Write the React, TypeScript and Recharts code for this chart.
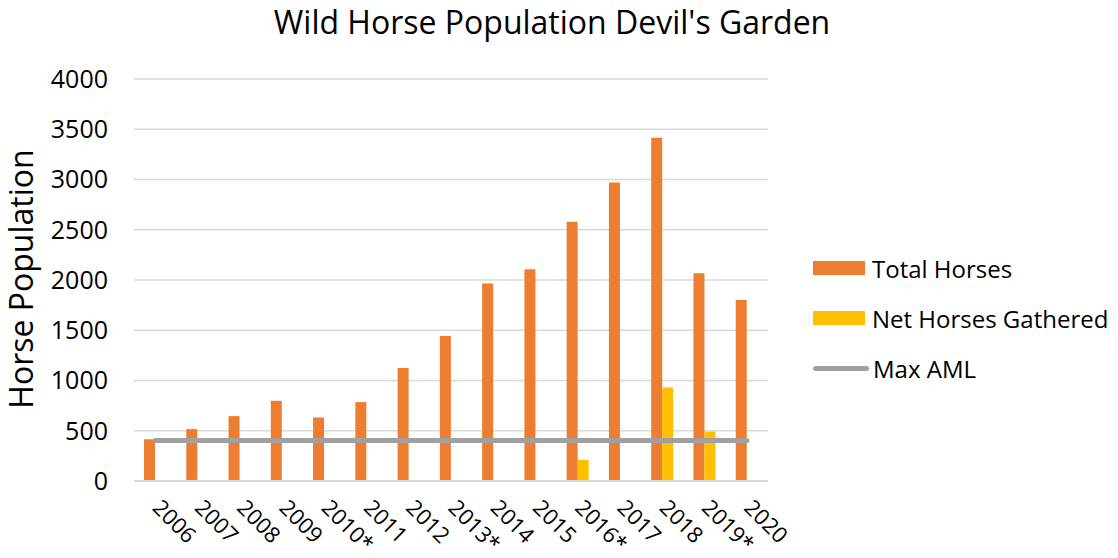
import {ComposedChart, Bar, Line, XAxis, YAxis, CartesianGrid} from "recharts";

const years = ["2006", "2007", "2008", "2009", "2010*", "2011", "2012", "2013*", "2014", "2015", "2016*", "2017", "2018", "2019*", "2020"];
const totalHorses = [415, 516, 646, 798, 632, 785, 1125, 1444, 1966, 2106, 2580, 2971, 3416, 2066, 1800];
const netGathered = [null, null, null, null, null, null, null, null, null, null, 210, null, 931, 492, null];
const maxAml = [402, 402, 402, 402, 402, 402, 402, 402, 402, 402, 402, 402, 402, 402, 402];
const yTicks = [0, 500, 1000, 1500, 2000, 2500, 3000, 3500, 4000];

const data = years.map((year, i) => ({
  year,
  total: totalHorses[i],
  net: netGathered[i],
  aml: maxAml[i],
}));

const FONT = "'Open Sans', sans-serif";
const ORANGE = "#ED7D31";
const YELLOW = "#FFC000";
const GRAY = "#A0A0A0";

const YearTick = ({x, y, payload}: any) => (
  <g transform={`translate(${x - 4},${y + 20}) rotate(45)`}>
    <text x={0} y={0} textAnchor="start" fill="#000" fontSize={22} fontFamily={FONT}>
      {payload.value}
    </text>
  </g>
);

const legendItems = [
  {label: "Total Horses", color: ORANGE, kind: "bar"},
  {label: "Net Horses Gathered", color: YELLOW, kind: "bar"},
  {label: "Max AML", color: GRAY, kind: "line"},
];

export default function App() {
  return (
    <div style={{position: "absolute", left: 0, top: 0, width: 1118, height: 558, background: "#fff", overflow: "hidden"}}>
      <ComposedChart
        width={1118}
        height={558}
        data={data}
        margin={{top: 79, right: 350, left: 0, bottom: 37}}
        barSize={11}
        barGap={0}
        style={{overflow: "visible"}}
      >
        <CartesianGrid vertical={false} stroke="#D9D9D9" strokeWidth={1.5} />
        <XAxis
          dataKey="year"
          height={40}
          axisLine={{stroke: "#D9D9D9", strokeWidth: 2}}
          tickLine={false}
          interval={0}
          tick={<YearTick />}
        />
        <YAxis
          width={134}
          domain={[0, 4000]}
          ticks={yTicks}
          axisLine={false}
          tickLine={false}
          tickMargin={20}
          tick={{fill: "#000", fontSize: 25, fontFamily: FONT}}
        />
        <Bar dataKey="total" fill={ORANGE} isAnimationActive={false} />
        <Bar dataKey="net" fill={YELLOW} isAnimationActive={false} />
        <Line
          dataKey="aml"
          stroke={GRAY}
          strokeWidth={5}
          strokeLinecap="round"
          dot={false}
          activeDot={false}
          isAnimationActive={false}
        />
      </ComposedChart>

      <svg width={1118} height={558} style={{position: "absolute", left: 0, top: 0, pointerEvents: "none"}}>
        <text x={552} y={34} textAnchor="middle" fontSize={32} fontFamily={FONT} fill="#000">
          Wild Horse Population Devil's Garden
        </text>
        <text
          x={33}
          y={279}
          textAnchor="middle"
          fontSize={32}
          fontFamily={FONT}
          fill="#000"
          transform="rotate(-90, 33, 279)"
        >
          Horse Population
        </text>
      </svg>

      <div style={{position: "absolute", left: 813, top: 243, fontFamily: FONT, fontSize: 24, color: "#000"}}>
        {legendItems.map((item) => (
          <div key={item.label} style={{display: "flex", alignItems: "center", height: 50, whiteSpace: "nowrap"}}>
            {item.kind === "bar" ? (
              <div style={{width: 52, height: 14, background: item.color, marginRight: 7}} />
            ) : (
              <div style={{width: 56, height: 5, borderRadius: 3, background: item.color, marginRight: 4}} />
            )}
            <span>{item.label}</span>
          </div>
        ))}
      </div>
    </div>
  );
}
